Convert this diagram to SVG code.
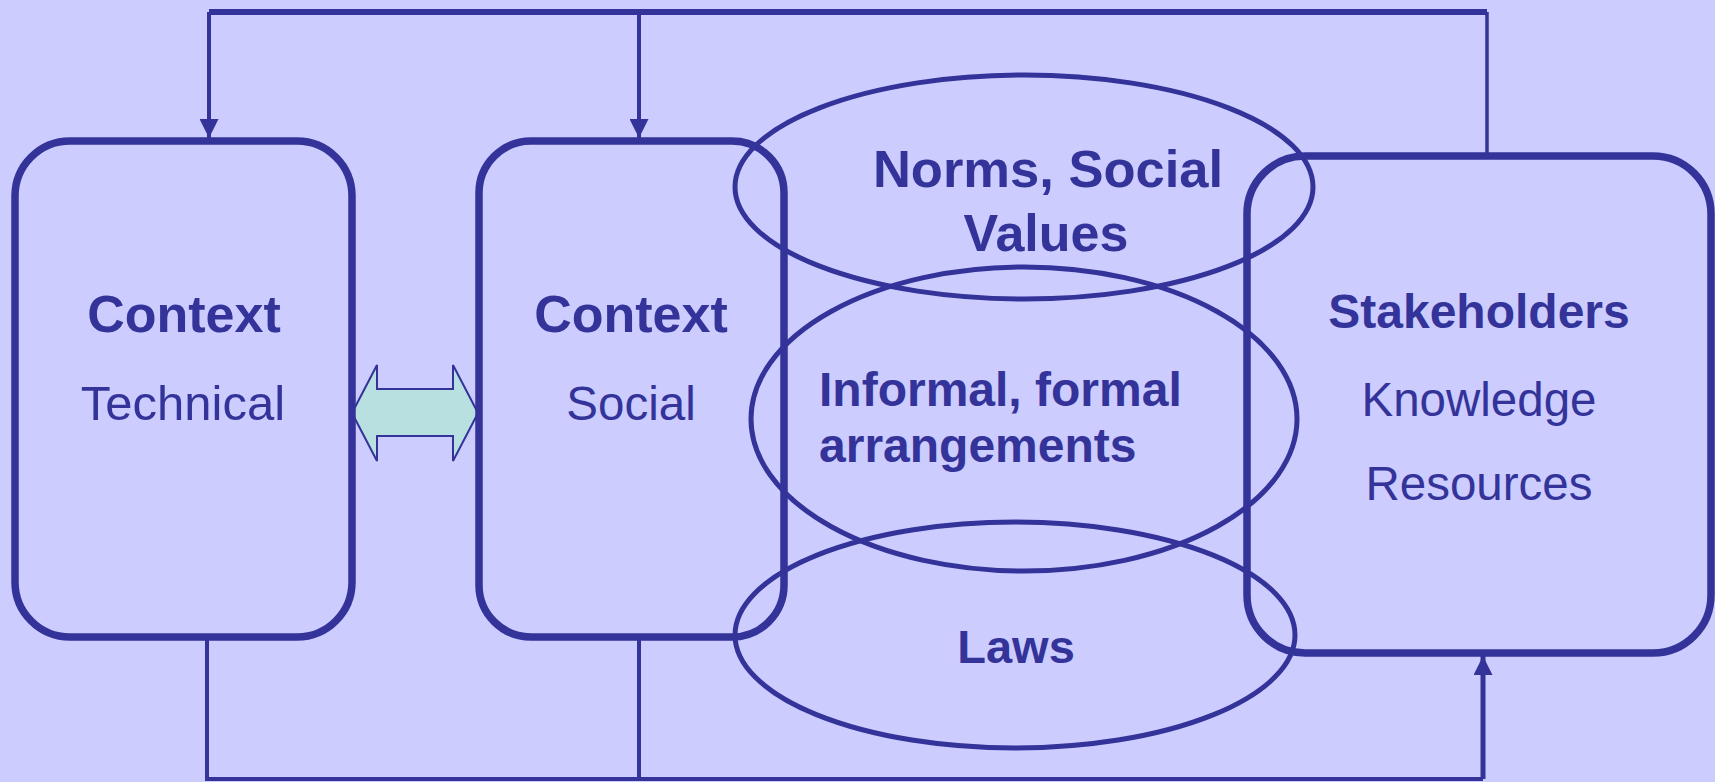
<svg xmlns="http://www.w3.org/2000/svg" width="1715" height="782" viewBox="0 0 1715 782">
<defs>
<style>
.box{fill:none;stroke:#333399;stroke-width:7.5}
.ell{fill:none;stroke:#333399;stroke-width:5}
.ln{fill:none;stroke:#333399;stroke-width:4}
.t{font-family:"Liberation Sans",Arial,sans-serif;fill:#333399;text-anchor:middle}
.b{font-weight:bold}
</style>
<marker id="ah" viewBox="0 0 10 10" refX="10" refY="5" markerWidth="19" markerHeight="19" markerUnits="userSpaceOnUse" orient="auto">
<path d="M0,0 L10,5 L0,10 z" fill="#333399"/>
</marker>
</defs>
<rect width="1715" height="782" fill="#CCCCFF"/>
<g id="connectors">
<path class="ln" d="M209,12 H1487" style="stroke-width:6"/>
<path class="ln" d="M209,12 V138" marker-end="url(#ah)"/>
<path class="ln" d="M639,12 V138" marker-end="url(#ah)"/>
<path class="ln" d="M1487,12 V154" style="stroke-width:3.5"/>
<path class="ln" d="M207,638 V779 H1483"/>
<path class="ln" d="M639,638 V779"/>
<path class="ln" d="M1483,779 V656" marker-end="url(#ah)" style="stroke-width:5"/>
<polygon id="double-arrow" points="352,413 377,365 377,389 453,389 453,365 478,413 453,461 453,436 377,436 377,461" fill="#B8E0E0" stroke="#333399" stroke-width="2"/>
</g>
<g id="technical">
<rect class="box" x="15" y="141" width="337" height="496" rx="55" ry="55"/>
<text class="t b" x="184" y="332" font-size="52">Context</text>
<text class="t" x="183" y="420" font-size="49">Technical</text>
</g>
<g id="social">
<rect class="box" x="479" y="141" width="305" height="496" rx="52" ry="52"/>
<text class="t b" x="631" y="332" font-size="52">Context</text>
<text class="t" x="631" y="420" font-size="47.5">Social</text>
</g>
<g id="norms">
<ellipse class="ell" cx="1024" cy="187" rx="289" ry="112"/>
<text class="t b" x="1048" y="187" font-size="52.5">Norms, Social</text>
<text class="t b" x="1046" y="251" font-size="52">Values</text>
</g>
<g id="arrangements">
<ellipse class="ell" cx="1024" cy="419" rx="273" ry="152"/>
<text class="t b" x="819" y="406" font-size="48" style="text-anchor:start">Informal, formal</text>
<text class="t b" x="819" y="462" font-size="48" style="text-anchor:start">arrangements</text>
</g>
<g id="laws">
<ellipse class="ell" cx="1015" cy="635" rx="280" ry="113"/>
<text class="t b" x="1016" y="663" font-size="47">Laws</text>
</g>
<g id="stakeholders">
<rect class="box" x="1247" y="156" width="464" height="497" rx="58" ry="58"/>
<text class="t b" x="1479" y="328" font-size="48">Stakeholders</text>
<text class="t" x="1479" y="416" font-size="47.5">Knowledge</text>
<text class="t" x="1479" y="500" font-size="47.5">Resources</text>
</g>
</svg>
